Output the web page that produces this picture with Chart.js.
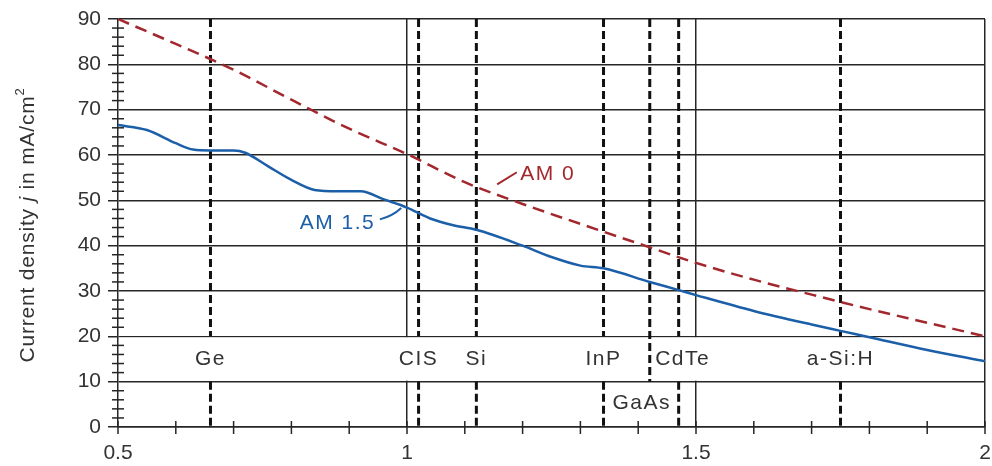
<!DOCTYPE html>
<html>
<head>
<meta charset="utf-8">
<script src="https://cdn.jsdelivr.net/npm/chart.js@4.4.0/dist/chart.umd.min.js"></script>
<style>
  html, body { margin: 0; padding: 0; background: #fff; overflow: hidden; }
  #wrap { width: 992px; height: 466px; }
</style>
</head>
<body>
<div id="wrap"><canvas id="chart"></canvas></div>
<script>
// AM 0 spectrum: max. current density vs band gap
const am0Gap = [0.5, 0.6, 0.7, 0.8, 0.9, 1.0, 1.1, 1.2, 1.3, 1.4, 1.5, 1.6, 1.7, 1.8, 1.9, 2.0];
const am0Current = [90, 84.5, 78.8, 72.2, 65.8, 60.2, 54, 49.2, 44.8, 40.5, 36.2, 32.5, 29.2, 26, 23, 20];

// AM 1.5 spectrum
const am15Gap = [0.5, 0.55, 0.6, 0.63, 0.66, 0.7, 0.72, 0.76, 0.8, 0.84, 0.88, 0.92, 0.96, 1.0, 1.04, 1.08, 1.12, 1.2, 1.25, 1.3, 1.34, 1.42, 1.47, 1.5, 1.6, 1.7, 1.75, 1.8, 1.9, 2.0];
const am15Current = [66.6, 65.5, 62.6, 61.2, 61, 61, 60.5, 57.5, 54.5, 52.3, 52, 52, 50.2, 48.4, 46, 44.5, 43.5, 40, 37.5, 35.6, 35, 32, 30.2, 29.1, 25.6, 22.6, 21.2, 19.8, 17, 14.5];

// semiconductor band gaps
const materials = ['Ge', 'CIS', 'Si', 'InP', 'GaAs', 'CdTe', 'a-Si:H'];
const bandGaps = [0.66, 1.02, 1.12, 1.34, 1.42, 1.47, 1.75];

const yTicks = [0, 10, 20, 30, 40, 50, 60, 70, 80, 90];
const xLabels = [0.5, 1, 1.5, 2];

const FONT = '"Liberation Sans", Arial, Helvetica, sans-serif';
const TEXT = '#333';
const LINE = '#262626';
const RED = '#a3282e';
const BLUE = '#1b5fa9';

const near = (a, b) => Math.abs(a - b) < 1e-6;

// one dashed line per material, interrupted in the label band
const markerSets = materials.map((m, i) => {
  const g = bandGaps[i];
  const pts = m === 'GaAs'
    ? [{x: g, y: 90}, {x: g, y: 10}]
    : [{x: g, y: 90}, {x: g, y: 20}, {x: g, y: null}, {x: g, y: 10}, {x: g, y: 0}];
  return {
    label: m,
    data: pts,
    borderColor: '#111',
    borderWidth: 3,
    borderDash: [8, 4],
    pointRadius: 0,
    tension: 0,
    spanGaps: false,
    order: 3
  };
});

const overlay = {
  id: 'overlay',
  beforeDatasetsDraw(chart) {
    const {ctx, chartArea: a, scales: {y}} = chart;
    const t = y.getPixelForValue(20), b = y.getPixelForValue(10);
    ctx.save();
    ctx.fillStyle = '#fff';
    ctx.fillRect(a.left + 1, t + 1, a.right - a.left - 2, b - t - 2);
    ctx.restore();
  },
  afterDatasetsDraw(chart) {
    const {ctx, chartArea: a, scales: {x, y}} = chart;
    ctx.save();
    ctx.strokeStyle = LINE;
    ctx.lineWidth = 1.5;

    // x ticks crossing the axis
    const y0 = y.getPixelForValue(0);
    for (let v = 5; v <= 20; v++) {
      const px = x.getPixelForValue(v / 10);
      ctx.beginPath();
      ctx.moveTo(px, y0 - 6);
      ctx.lineTo(px, y0 + 7);
      ctx.stroke();
    }
    // y minor ticks crossing the axis
    for (let v = 2; v < 90; v += 2) {
      if (v % 10 === 0) continue;
      const py = y.getPixelForValue(v);
      ctx.beginPath();
      ctx.moveTo(a.left - 6, py);
      ctx.lineTo(a.left + 6, py);
      ctx.stroke();
    }

    // material labels
    ctx.fillStyle = TEXT;
    ctx.font = '21px ' + FONT;
    ctx.letterSpacing = '1.5px';
    ctx.textAlign = 'center';
    ctx.textBaseline = 'middle';
    materials.forEach((m, i) => {
      if (m === 'GaAs') {
        ctx.fillText(m, x.getPixelForValue(bandGaps[i]) - 8, y.getPixelForValue(5.2));
      } else {
        ctx.fillText(m, x.getPixelForValue(bandGaps[i]) + (m === 'CdTe' ? 4 : 0), y.getPixelForValue(15));
      }
    });

    // curve labels with leader lines
    ctx.font = '21px ' + FONT;
    ctx.lineWidth = 2;
    ctx.strokeStyle = RED;
    ctx.fillStyle = RED;
    ctx.textAlign = 'left';
    ctx.beginPath();
    ctx.moveTo(x.getPixelForValue(1.156), y.getPixelForValue(53.5));
    ctx.lineTo(x.getPixelForValue(1.19), y.getPixelForValue(56.2));
    ctx.stroke();
    ctx.fillText('AM 0', x.getPixelForValue(1.196), y.getPixelForValue(55.8));

    ctx.strokeStyle = BLUE;
    ctx.fillStyle = BLUE;
    ctx.beginPath();
    ctx.moveTo(x.getPixelForValue(0.953), y.getPixelForValue(45.8));
    ctx.quadraticCurveTo(x.getPixelForValue(0.975), y.getPixelForValue(46.5), x.getPixelForValue(0.99), y.getPixelForValue(48.3));
    ctx.stroke();
    ctx.textAlign = 'right';
    ctx.fillText('AM 1.5', x.getPixelForValue(0.945), y.getPixelForValue(45.0));

    // y axis title, rotated, italic j
    ctx.letterSpacing = '0.8px';
    ctx.translate(28, (a.top + a.bottom) / 2 + 2);
    ctx.rotate(-Math.PI / 2);
    ctx.fillStyle = TEXT;
    ctx.textAlign = 'left';
    const parts = [
      ['Current density ', '21px ' + FONT, 0],
      ['j', 'italic 21px ' + FONT, 0],
      [' in mA/cm', '21px ' + FONT, 0],
      ['2', '13px ' + FONT, -8]
    ];
    let total = 0;
    parts.forEach(p => { ctx.font = p[1]; total += ctx.measureText(p[0]).width; });
    let cx = -total / 2;
    parts.forEach(p => {
      ctx.font = p[1];
      ctx.fillText(p[0], cx, p[2]);
      cx += ctx.measureText(p[0]).width;
    });
    ctx.restore();
  }
};

new Chart(document.getElementById('chart'), {
  type: 'line',
  data: {
    datasets: [
      {
        label: 'AM 0',
        data: am0Gap.map((g, i) => ({x: g, y: am0Current[i]})),
        borderColor: RED,
        borderWidth: 2.5,
        borderDash: [12, 7],
        pointRadius: 0,
        cubicInterpolationMode: 'monotone',
        order: 1
      },
      {
        label: 'AM 1.5',
        data: am15Gap.map((g, i) => ({x: g, y: am15Current[i]})),
        borderColor: BLUE,
        borderWidth: 2.5,
        pointRadius: 0,
        cubicInterpolationMode: 'monotone',
        order: 2
      },
      ...markerSets
    ]
  },
  options: {
    responsive: true,
    maintainAspectRatio: false,
    animation: false,
    layout: { padding: { left: 0, right: 7, top: 19, bottom: 0 } },
    plugins: {
      legend: { display: false },
      tooltip: { enabled: false }
    },
    scales: {
      x: {
        type: 'linear',
        min: 0.5,
        max: 2,
        afterFit: s => { s.height = 39; s.paddingLeft = 0; s.paddingRight = 0; },
        ticks: {
          stepSize: 0.1,
          autoSkip: false,
          maxRotation: 0,
          padding: 14,
          color: TEXT,
          font: { family: FONT, size: 21 },
          callback: v => xLabels.some(l => near(l, v)) ? String(Math.round(v * 10) / 10) : ''
        },
        grid: {
          drawTicks: false,
          lineWidth: 1.5,
          color: c => (near(c.tick.value, 1) || near(c.tick.value, 1.5) || near(c.tick.value, 2)) ? LINE : 'rgba(0,0,0,0)'
        },
        border: { display: true, color: LINE, width: 1.5 }
      },
      y: {
        min: 0,
        max: 90,
        afterFit: s => { s.width = 118; s.paddingTop = 0; s.paddingBottom = 0; },
        afterBuildTicks: s => { s.ticks = yTicks.map(v => ({value: v})); },
        ticks: {
          padding: 7,
          color: TEXT,
          font: { family: FONT, size: 21 }
        },
        grid: {
          drawTicks: true,
          tickLength: 10,
          tickColor: LINE,
          color: LINE,
          lineWidth: 1.5
        },
        border: { display: true, color: LINE, width: 1.5 }
      }
    }
  },
  plugins: [overlay]
});
</script>
</body>
</html>
